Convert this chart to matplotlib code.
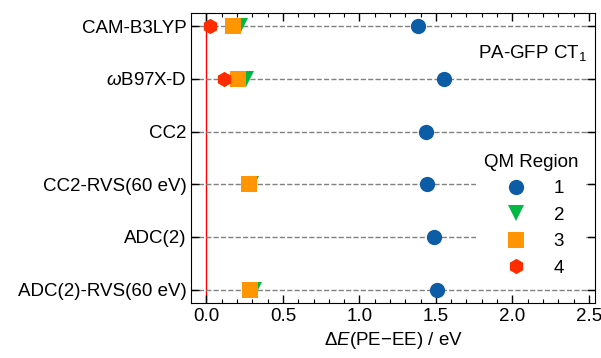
import numpy as np
import matplotlib
matplotlib.use('Agg')
from matplotlib import pyplot as plt

plt.rcParams['font.family'] = ['Liberation Sans', 'DejaVu Sans']
plt.rcParams['mathtext.fontset'] = 'custom'
plt.rcParams['mathtext.rm'] = 'Liberation Sans'
plt.rcParams['mathtext.it'] = 'Liberation Sans:italic'
plt.rcParams['font.size'] = 13.5

methods = ['CAM-B3LYP', r'$\omega$B97X-D', 'CC2', 'CC2-RVS(60 eV)', 'ADC(2)', 'ADC(2)-RVS(60 eV)']
region_labels = ['1', '2', '3', '4']
# delta E per QM region, nan where not computed
region1 = [1.38, 1.55, 1.435, 1.44, 1.49, 1.51]
region2 = [0.22, 0.256, np.nan, 0.29, np.nan, 0.31]
region3 = [0.172, 0.209, np.nan, 0.28, np.nan, 0.287]
region4 = [0.024, 0.115, np.nan, np.nan, np.nan, np.nan]

colors = ['#0C5DA5', '#00B945', '#FF9500', '#FF2C00']
markers = ['o', 'v', 's', 'h']

fig = plt.figure(figsize=(6.01, 3.58), dpi=100)
ax = fig.add_axes([0.318, 0.154, 0.672, 0.81])

y = np.arange(len(methods))
ax.grid(axis='y', ls='--', color='gray', lw=1, zorder=0)
ax.axvline(0.0, color='red', lw=1, zorder=1)
for vals, c, m, lab in zip([region1, region2, region3, region4], colors, markers, region_labels):
    ax.plot(vals, y, ls='none', marker=m, color=c, markersize=11, markeredgewidth=0, label=lab, zorder=3)

ax.set_yticks(y)
ax.set_yticklabels(methods)
ax.set_ylim(5.25, -0.25)
ax.set_xlim(-0.1, 2.54)
ax.set_xticks([0.0, 0.5, 1.0, 1.5, 2.0, 2.5])
ax.set_xticks(np.arange(0.0, 2.55, 0.1), minor=True)
ax.tick_params(which='both', direction='in', top=True, right=True)
ax.tick_params(which='major', length=6, width=1)
ax.tick_params(which='minor', length=3, width=0.8)
ax.tick_params(axis='y', which='minor', left=False, right=False)
ax.set_xlabel(r'$\Delta E$(PE$-$EE) / eV')

ax.text(0.98, 0.86, r'PA-GFP CT$_1$', transform=ax.transAxes, ha='right', va='center')
leg = ax.legend(title='QM Region', loc='lower right', bbox_to_anchor=(1.0, 0.032),
                frameon=True, framealpha=1, edgecolor='none', facecolor='white',
                fancybox=False, handletextpad=1.0, labelspacing=0.5)

fig.savefig('out.png', dpi=100)
